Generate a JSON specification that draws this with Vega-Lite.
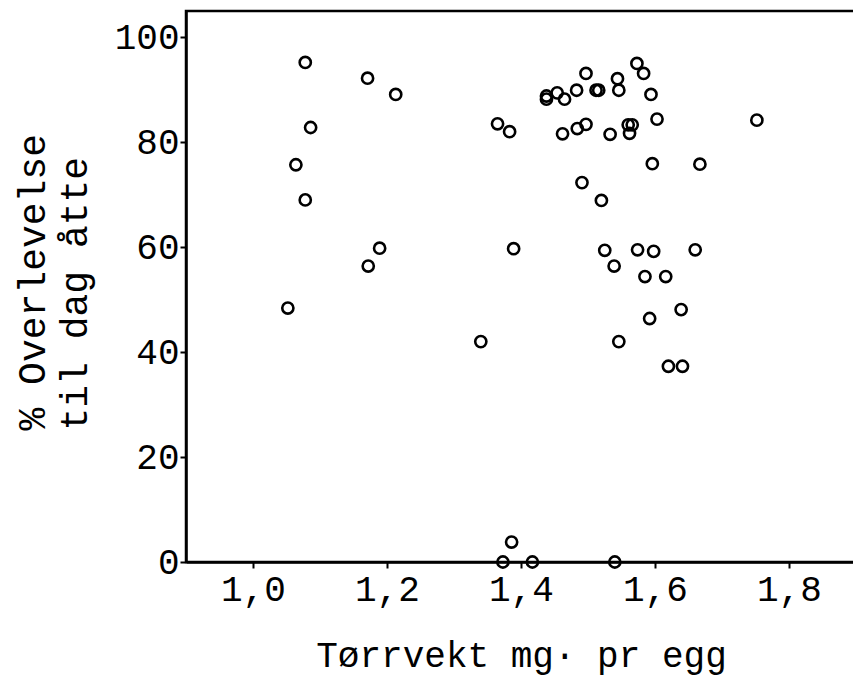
{
  "$schema": "https://vega.github.io/schema/vega-lite/v6.json",
  "width": 670,
  "height": 551,
  "autosize": {"type": "none"},
  "padding": {"left": 186, "top": 11, "right": 0, "bottom": 115},
  "background": "white",
  "config": {
    "view": {"stroke": "black", "strokeWidth": 2.5},
    "font": "Liberation Mono",
    "axis": {
      "grid": false,
      "domainColor": "black",
      "domainWidth": 2.5,
      "tickColor": "black",
      "tickWidth": 2,
      "tickSize": 6,
      "labelFont": "Liberation Mono",
      "labelFontSize": 36,
      "labelColor": "black",
      "titleFont": "Liberation Mono",
      "titleFontSize": 36,
      "titleFontWeight": "normal",
      "titleColor": "black"
    }
  },
  "data": {
    "values": [
      {"vekt": 1.052, "overlevelse": 48.4},
      {"vekt": 1.078, "overlevelse": 95.2},
      {"vekt": 1.086, "overlevelse": 82.8},
      {"vekt": 1.064, "overlevelse": 75.7},
      {"vekt": 1.078, "overlevelse": 69.0},
      {"vekt": 1.171, "overlevelse": 92.2},
      {"vekt": 1.213, "overlevelse": 89.1},
      {"vekt": 1.189, "overlevelse": 59.8},
      {"vekt": 1.172, "overlevelse": 56.4},
      {"vekt": 1.365, "overlevelse": 83.5},
      {"vekt": 1.383, "overlevelse": 82.0},
      {"vekt": 1.438, "overlevelse": 88.8},
      {"vekt": 1.438, "overlevelse": 88.2},
      {"vekt": 1.454, "overlevelse": 89.4},
      {"vekt": 1.465, "overlevelse": 88.2},
      {"vekt": 1.483, "overlevelse": 89.9},
      {"vekt": 1.497, "overlevelse": 93.1},
      {"vekt": 1.512, "overlevelse": 89.9},
      {"vekt": 1.516, "overlevelse": 89.9},
      {"vekt": 1.544, "overlevelse": 92.1},
      {"vekt": 1.546, "overlevelse": 89.9},
      {"vekt": 1.573, "overlevelse": 95.0},
      {"vekt": 1.583, "overlevelse": 93.1},
      {"vekt": 1.594, "overlevelse": 89.1},
      {"vekt": 1.603, "overlevelse": 84.4},
      {"vekt": 1.462, "overlevelse": 81.6},
      {"vekt": 1.484, "overlevelse": 82.6},
      {"vekt": 1.497, "overlevelse": 83.4},
      {"vekt": 1.533, "overlevelse": 81.5},
      {"vekt": 1.560, "overlevelse": 83.3},
      {"vekt": 1.566, "overlevelse": 83.3},
      {"vekt": 1.562, "overlevelse": 81.7},
      {"vekt": 1.596, "overlevelse": 75.9},
      {"vekt": 1.667, "overlevelse": 75.8},
      {"vekt": 1.491, "overlevelse": 72.3},
      {"vekt": 1.520, "overlevelse": 68.9},
      {"vekt": 1.389, "overlevelse": 59.7},
      {"vekt": 1.340, "overlevelse": 42.0},
      {"vekt": 1.525, "overlevelse": 59.4},
      {"vekt": 1.539, "overlevelse": 56.4},
      {"vekt": 1.574, "overlevelse": 59.5},
      {"vekt": 1.598, "overlevelse": 59.2},
      {"vekt": 1.660, "overlevelse": 59.5},
      {"vekt": 1.585, "overlevelse": 54.4},
      {"vekt": 1.616, "overlevelse": 54.4},
      {"vekt": 1.639, "overlevelse": 48.1},
      {"vekt": 1.592, "overlevelse": 46.4},
      {"vekt": 1.546, "overlevelse": 42.0},
      {"vekt": 1.620, "overlevelse": 37.3},
      {"vekt": 1.641, "overlevelse": 37.3},
      {"vekt": 1.752, "overlevelse": 84.2},
      {"vekt": 1.373, "overlevelse": 0},
      {"vekt": 1.417, "overlevelse": 0},
      {"vekt": 1.540, "overlevelse": 0},
      {"vekt": 1.386, "overlevelse": 3.8}
    ]
  },
  "mark": {
    "type": "point",
    "shape": "circle",
    "filled": false,
    "color": "black",
    "opacity": 1,
    "size": 125,
    "strokeWidth": 2.6,
    "clip": false
  },
  "encoding": {
    "x": {
      "field": "vekt",
      "type": "quantitative",
      "scale": {"domain": [0.9, 1.9], "nice": false, "zero": false},
      "axis": {
        "title": "Tørrvekt mg· pr egg",
        "values": [1.0, 1.2, 1.4, 1.6, 1.8],
        "labelExpr": "replace(format(datum.value, '.1f'), '.', ',')",
        "labelPadding": 4,
        "titlePadding": 31
      }
    },
    "y": {
      "field": "overlevelse",
      "type": "quantitative",
      "scale": {"domain": [0, 105], "nice": false},
      "axis": {
        "title": ["% Overlevelse", "til dag åtte"],
        "values": [0, 20, 40, 60, 80, 100],
        "labelPadding": 1,
        "titleFontSize": 38,
        "titleLineHeight": 42,
        "titleAngle": -90,
        "titleBaseline": "middle",
        "titleAlign": "left",
        "titleX": -153,
        "titleY": 419
      }
    }
  }
}
